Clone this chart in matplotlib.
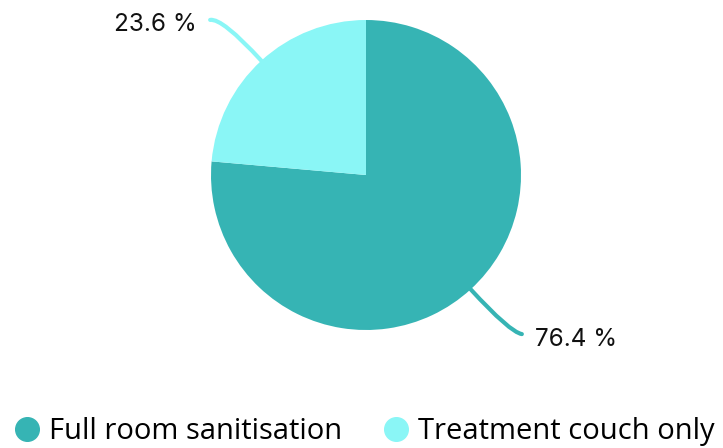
import numpy as np
import matplotlib.pyplot as plt
from matplotlib.path import Path
from matplotlib.patches import PathPatch
from matplotlib.lines import Line2D

labels = ['Full room sanitisation', 'Treatment couch only']
shares = [76.4, 23.6]
colors = ['#36b4b4', '#8af6f6']

plt.rcParams['font.family'] = ['Open Sans', 'DejaVu Sans']

fig = plt.figure(figsize=(7.23, 4.48), dpi=100)
ax = fig.add_axes([0, 0, 1, 1])

cx, cy, r = 366, 273, 155
wedges, _ = ax.pie(shares, colors=colors, startangle=90, counterclock=False,
                   center=(cx, cy), radius=r, frame=True)
ax.set_xlim(0, 723)
ax.set_ylim(0, 448)
ax.set_aspect('equal')
ax.axis('off')

# curved leader lines ending in a short horizontal stroke
for w, val, col in zip(wedges, shares, colors):
    ang = np.deg2rad((w.theta1 + w.theta2) / 2)
    dx, dy = np.cos(ang), np.sin(ang)
    start = (cx + r * dx, cy + r * dy)
    ctrl = (cx + (r + 58) * dx, cy + (r + 58) * dy)
    side = 1 if dx > 0 else -1
    end = (ctrl[0] + 12 * side, ctrl[1] - 2)
    path = Path([start, ctrl, end], [Path.MOVETO, Path.CURVE3, Path.CURVE3])
    ax.add_patch(PathPatch(path, fc='none', ec=col, lw=3, capstyle='round'))
    ax.text(end[0] + 13 * side, end[1] - 5, f'{val} %', fontsize=17.5,
            family=['Inter', 'DejaVu Sans'],
            ha='left' if side > 0 else 'right', va='center', color='#111111')

handles = [Line2D([], [], ls='none', marker='o', markersize=17, color=c)
           for c in colors]
fig.legend(handles, labels, loc='lower center', bbox_to_anchor=(0.503, -0.035),
           ncol=2, frameon=False, fontsize=21, handletextpad=0.25,
           columnspacing=1.35, handlelength=1.0, borderaxespad=0.2)

fig.savefig('out.png', dpi=100)
